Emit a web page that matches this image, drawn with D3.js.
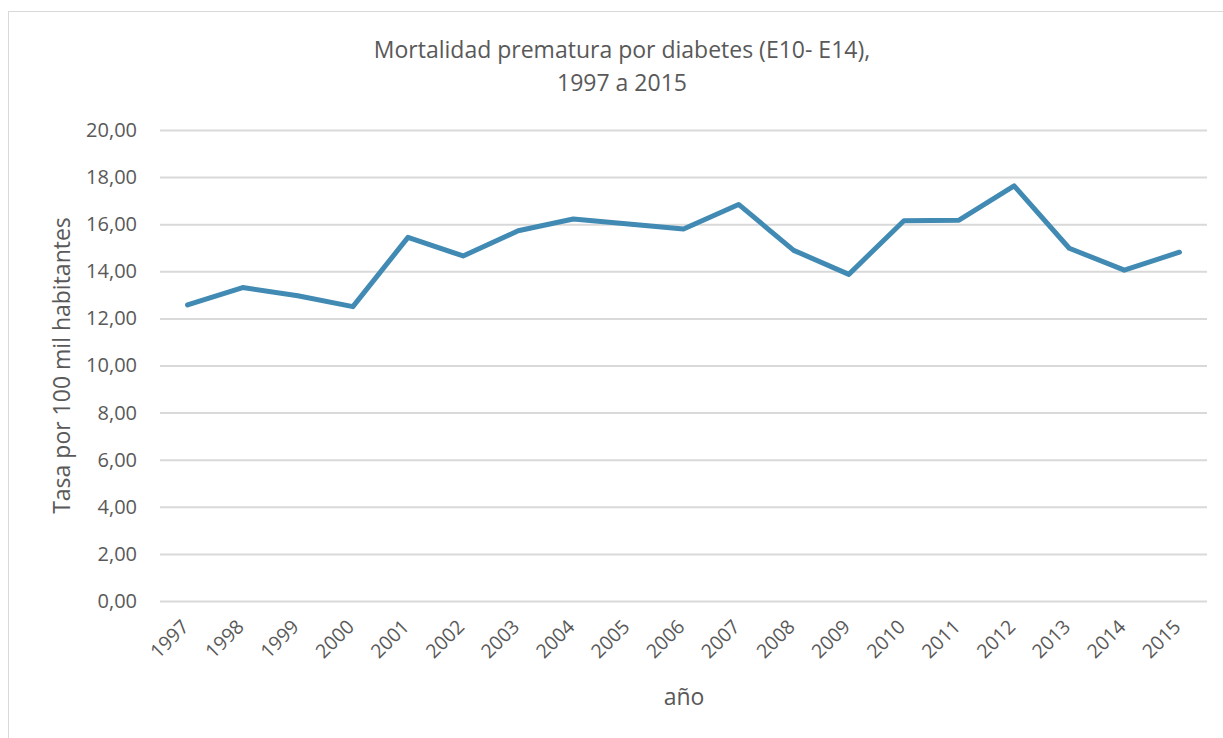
<!DOCTYPE html>
<html>
<head>
<meta charset="utf-8">
<script src="https://cdn.jsdelivr.net/npm/d3@7"></script>
<style>
  html, body { margin: 0; padding: 0; background: #fff; }
  svg { display: block; font-family: "Open Sans", sans-serif; }
</style>
</head>
<body>
<svg id="chart" width="1223" height="738"></svg>
<script>
const years = ['1997', '1998', '1999', '2000', '2001', '2002', '2003', '2004', '2005', '2006',
    '2007', '2008', '2009', '2010', '2011', '2012', '2013', '2014', '2015'];
const rates = [12.57, 13.31, 12.96, 12.50, 15.44, 14.65, 15.72, 16.22, 16.01, 15.80,
    16.84, 14.89, 13.87, 16.15, 16.17, 17.63, 14.98, 14.05, 14.81];
const yTicks = [0, 2, 4, 6, 8, 10, 12, 14, 16, 18, 20];

const svg = d3.select('#chart');
const W = 1223;
const H = 738;
const margin = { top: 130, right: 16, bottom: 137, left: 160 };
const textColour = '#595959';

// chart frame
svg.append('rect')
    .attr('x', 8.5)
    .attr('y', 11.5)
    .attr('width', W + 20)
    .attr('height', H + 20)
    .attr('fill', 'none')
    .attr('stroke', '#d9d9d9')
    .attr('stroke-width', 1);

const scaleX = d3.scalePoint()
    .domain(years)
    .range([margin.left, W - margin.right])
    .padding(0.5);

const scaleY = d3.scaleLinear()
    .domain([0, 20])
    .range([H - margin.bottom, margin.top]);

const fmt = (d) => d.toFixed(2).replace('.', ',');

// Y axis (gridlines + labels)
const yAxis = svg.append('g')
    .attr('transform', `translate(${margin.left},0)`)
    .call(d3.axisLeft(scaleY)
        .tickValues(yTicks)
        .tickFormat(fmt)
        .tickSize(-(W - margin.right - margin.left))
        .tickPadding(23));
yAxis.select('.domain').remove();
yAxis.selectAll('line')
    .attr('stroke', '#d9d9d9')
    .attr('stroke-width', 2);
yAxis.selectAll('text')
    .attr('fill', textColour)
    .style('font-size', '20px')
    .style('font-family', '"Open Sans", sans-serif');

// X axis labels
const xAxis = svg.append('g')
    .attr('transform', `translate(0,${H - margin.bottom})`)
    .call(d3.axisBottom(scaleX).tickSize(0).tickPadding(0));
xAxis.select('.domain').remove();
xAxis.selectAll('text')
    .attr('fill', textColour)
    .style('font-size', '19.5px')
    .style('font-family', '"Open Sans", sans-serif')
    .attr('text-anchor', 'end')
    .attr('dy', null)
    .attr('y', 0)
    .attr('transform', 'translate(2,27) rotate(-45)');

// Line
const line = d3.line()
    .x((_d, i) => scaleX(years[i]))
    .y((d) => scaleY(d));

svg.append('path')
    .datum(rates)
    .attr('d', line)
    .attr('fill', 'none')
    .attr('stroke', '#418ab3')
    .attr('stroke-width', 5)
    .attr('stroke-linejoin', 'round')
    .attr('stroke-linecap', 'round');

// Title
const title = svg.append('text')
    .attr('x', 622)
    .attr('text-anchor', 'middle')
    .attr('fill', textColour)
    .style('font-size', '23px');
title.append('tspan').attr('x', 622).attr('y', 58).text('Mortalidad prematura por diabetes (E10- E14),');
title.append('tspan').attr('x', 622).attr('y', 91).text('1997 a 2015');

// Axis titles
svg.append('text')
    .attr('transform', `translate(70,${(scaleY(0) + scaleY(20)) / 2}) rotate(-90)`)
    .attr('text-anchor', 'middle')
    .attr('fill', textColour)
    .style('font-size', '23px')
    .text('Tasa por 100 mil habitantes');

svg.append('text')
    .attr('x', 684)
    .attr('y', 705)
    .attr('text-anchor', 'middle')
    .attr('fill', textColour)
    .style('font-size', '23px')
    .text('año');
</script>
</body>
</html>
